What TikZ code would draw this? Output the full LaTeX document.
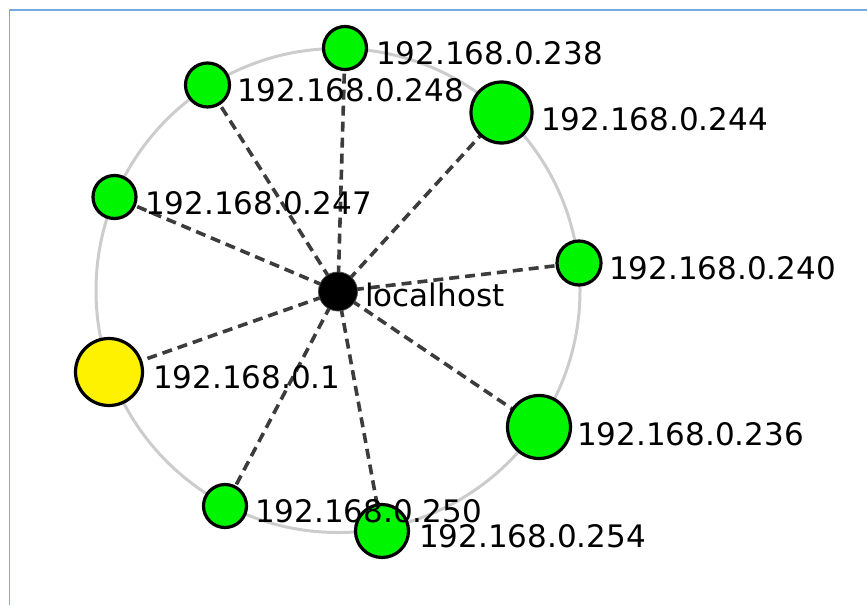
\documentclass[tikz,border=0pt]{standalone}
\usepackage{fontspec}
\setmainfont{DejaVu Sans}
\begin{document}
\begin{tikzpicture}[x=1pt,y=-1pt,
  host/.style={circle,draw=black,line width=3.2pt,fill=hostgreen,inner sep=0pt},
  iplabel/.style={anchor=base west,inner sep=0pt,font=\fontsize{31}{37}\selectfont},
  link/.style={draw=linkgray,line width=3.6pt,dash pattern=on 10pt off 6pt}]
\definecolor{hostgreen}{RGB}{0,245,0}
\definecolor{linkgray}{RGB}{60,60,60}
\definecolor{ringgray}{RGB}{204,204,204}
\definecolor{frameblue}{RGB}{120,170,225}
\useasboundingbox (0,0) rectangle (867,605);
\draw[frameblue,line width=1.8pt] (9.5,605) -- (9.5,10) -- (867,10);
\node[circle,draw=ringgray,line width=3pt,minimum size=484pt,inner sep=0pt] (ring) at (338,290.5) {};
% nodes
\coordinate (c) at (338,291.5);
\coordinate (p238) at (345,48);
\coordinate (p248) at (207.5,85);
\coordinate (p244) at (501.5,112.5);
\coordinate (p247) at (114.5,197);
\coordinate (p240) at (579,263);
\coordinate (p1) at (109,372);
\coordinate (p236) at (539,427);
\coordinate (p250) at (225,506);
\coordinate (p254) at (382,531);
% edges
\foreach \p in {p238,p248,p244,p247,p240,p1,p236,p250,p254}
  \draw[link] (c) -- (\p);
\node[circle,fill=black,draw=black!70,line width=0.8pt,minimum size=39pt,inner sep=0pt] (lh) at (c) {};
\node[host,minimum size=43pt] (n238) at (p238) {};
\node[host,minimum size=44pt] (n248) at (p248) {};
\node[host,minimum size=61pt] (n244) at (p244) {};
\node[host,minimum size=43pt] (n247) at (p247) {};
\node[host,minimum size=44pt] (n240) at (p240) {};
\node[host,fill=yellow,minimum size=67pt] (n1) at (p1) {};
\node[host,minimum size=63pt] (n236) at (p236) {};
\node[host,minimum size=43pt] (n250) at (p250) {};
\node[host,minimum size=53pt] (n254) at (p254) {};
% labels
\node[iplabel] (llh) at (365,306.5) {localhost};
\node[iplabel] (l238) at (376,64.5) {192.168.0.238};
\node[iplabel] (l248) at (237,101.5) {192.168.0.248};
\node[iplabel] (l244) at (541,130) {192.168.0.244};
\node[iplabel] (l247) at (145,214.5) {192.168.0.247};
\node[iplabel] (l240) at (609,279.5) {192.168.0.240};
\node[iplabel] (l1) at (153,388.5) {192.168.0.1};
\node[iplabel] (l236) at (577,445) {192.168.0.236};
\node[iplabel] (l250) at (255,522) {192.168.0.250};
\node[iplabel] (l254) at (419,547) {192.168.0.254};
\end{tikzpicture}
\end{document}
